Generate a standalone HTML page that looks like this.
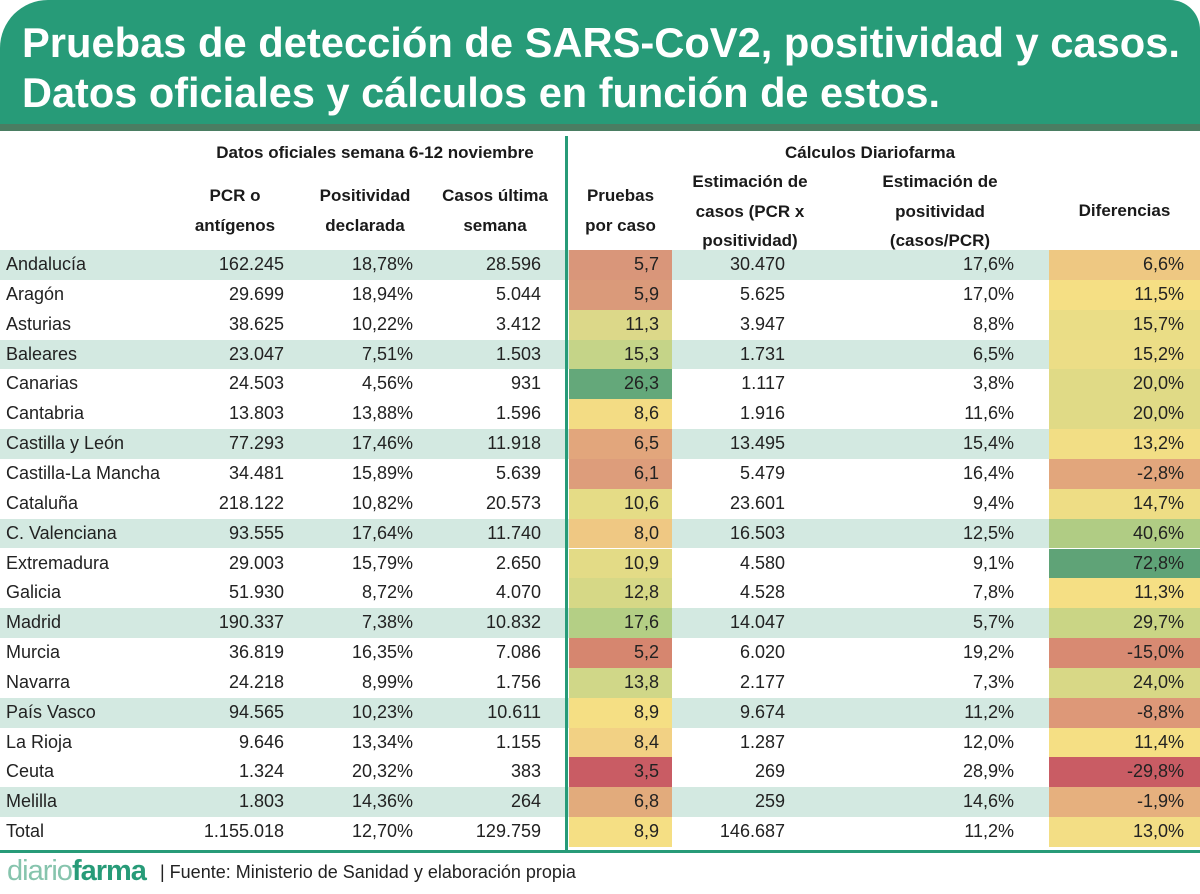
<!DOCTYPE html>
<html><head><meta charset="utf-8">
<style>
*{margin:0;padding:0;box-sizing:border-box}
body{width:1200px;height:894px;background:#fff;position:relative;overflow:hidden;font-family:"Liberation Sans",sans-serif;color:#222}
.hdr{position:absolute;left:0;top:0;width:1200px;height:125px;background:#279b78;border-top-left-radius:48px;border-top-right-radius:30px}
.stripe{position:absolute;left:0;top:124px;width:1200px;height:7px;background:#4a7d62}
.vline{position:absolute;left:565px;top:136px;width:3px;height:716px;background:#279b78}
.hline{position:absolute;left:0;top:850px;width:1200px;height:3px;background:#279b78}
.h{position:absolute;font-weight:bold;font-size:17px;text-align:center;line-height:29.5px;color:#1a1a1a}
.row{position:absolute;left:0;width:1200px;height:29.85px;font-size:18px;line-height:29.85px}
.row.b{background:#d3e9e1}
.row div{position:absolute;top:0;height:29.85px}
.n{left:6px}
.c1{left:150px;width:134px;text-align:right}
.c2{left:290px;width:123px;text-align:right}
.c3{left:420px;width:121px;text-align:right}
.c4{left:569px;width:103px;text-align:right;padding-right:13px}
.c5{left:675px;width:110px;text-align:right}
.c6{left:880px;width:134px;text-align:right}
.c7{left:1049px;width:151px;text-align:right;padding-right:16px}
.foot{position:absolute;left:7px;top:855px;font-size:29px;letter-spacing:-1px}
.src{position:absolute;left:160px;top:862px;font-size:18px;color:#222}
</style></head><body>
<div class="hdr"></div>
<svg style="position:absolute;left:0;top:0" width="1200" height="125">
<text x="22" y="57" font-family="Liberation Sans" font-weight="bold" font-size="42" fill="#fff" textLength="1158" lengthAdjust="spacingAndGlyphs">Pruebas de detección de SARS-CoV2, positividad y casos.</text>
<text x="22" y="107" font-family="Liberation Sans" font-weight="bold" font-size="42" fill="#fff" textLength="918" lengthAdjust="spacingAndGlyphs">Datos oficiales y cálculos en función de estos.</text>
</svg>
<div class="stripe"></div>

<div class="h" style="left:180px;width:390px;top:138px">Datos oficiales semana 6-12 noviembre</div>
<div class="h" style="left:760px;width:220px;top:138px">Cálculos Diariofarma</div>
<div class="h" style="left:180px;width:110px;top:181px">PCR o<br>antígenos</div>
<div class="h" style="left:300px;width:130px;top:181px">Positividad<br>declarada</div>
<div class="h" style="left:430px;width:130px;top:181px">Casos última<br>semana</div>
<div class="h" style="left:569px;width:103px;top:181px">Pruebas<br>por caso</div>
<div class="h" style="left:675px;width:150px;top:167px">Estimación de<br>casos (PCR x<br>positividad)</div>
<div class="h" style="left:865px;width:150px;top:167px">Estimación de<br>positividad<br>(casos/PCR)</div>
<div class="h" style="left:1049px;width:151px;top:196px">Diferencias</div>

<div class="row b" style="top:250.0px"><div class="n">Andalucía</div><div class="c1">162.245</div><div class="c2">18,78%</div><div class="c3">28.596</div><div class="c4" style="background:#d9967a">5,7</div><div class="c5">30.470</div><div class="c6">17,6%</div><div class="c7" style="background:#eec882">6,6%</div></div>
<div class="row" style="top:279.85px"><div class="n">Aragón</div><div class="c1">29.699</div><div class="c2">18,94%</div><div class="c3">5.044</div><div class="c4" style="background:#da9a7a">5,9</div><div class="c5">5.625</div><div class="c6">17,0%</div><div class="c7" style="background:#f5df84">11,5%</div></div>
<div class="row" style="top:309.7px"><div class="n">Asturias</div><div class="c1">38.625</div><div class="c2">10,22%</div><div class="c3">3.412</div><div class="c4" style="background:#dcd889">11,3</div><div class="c5">3.947</div><div class="c6">8,8%</div><div class="c7" style="background:#eadd86">15,7%</div></div>
<div class="row b" style="top:339.55px"><div class="n">Baleares</div><div class="c1">23.047</div><div class="c2">7,51%</div><div class="c3">1.503</div><div class="c4" style="background:#c5d488">15,3</div><div class="c5">1.731</div><div class="c6">6,5%</div><div class="c7" style="background:#ecdd86">15,2%</div></div>
<div class="row" style="top:369.4px"><div class="n">Canarias</div><div class="c1">24.503</div><div class="c2">4,56%</div><div class="c3">931</div><div class="c4" style="background:#64a87a">26,3</div><div class="c5">1.117</div><div class="c6">3,8%</div><div class="c7" style="background:#e0da86">20,0%</div></div>
<div class="row" style="top:399.25px"><div class="n">Cantabria</div><div class="c1">13.803</div><div class="c2">13,88%</div><div class="c3">1.596</div><div class="c4" style="background:#f3dc84">8,6</div><div class="c5">1.916</div><div class="c6">11,6%</div><div class="c7" style="background:#e0da86">20,0%</div></div>
<div class="row b" style="top:429.1px"><div class="n">Castilla y León</div><div class="c1">77.293</div><div class="c2">17,46%</div><div class="c3">11.918</div><div class="c4" style="background:#e2a67c">6,5</div><div class="c5">13.495</div><div class="c6">15,4%</div><div class="c7" style="background:#f2de85">13,2%</div></div>
<div class="row" style="top:458.95px"><div class="n">Castilla-La Mancha</div><div class="c1">34.481</div><div class="c2">15,89%</div><div class="c3">5.639</div><div class="c4" style="background:#dd9d7b">6,1</div><div class="c5">5.479</div><div class="c6">16,4%</div><div class="c7" style="background:#e2a67c">-2,8%</div></div>
<div class="row" style="top:488.8px"><div class="n">Cataluña</div><div class="c1">218.122</div><div class="c2">10,82%</div><div class="c3">20.573</div><div class="c4" style="background:#e5dc86">10,6</div><div class="c5">23.601</div><div class="c6">9,4%</div><div class="c7" style="background:#eedd85">14,7%</div></div>
<div class="row b" style="top:518.65px"><div class="n">C. Valenciana</div><div class="c1">93.555</div><div class="c2">17,64%</div><div class="c3">11.740</div><div class="c4" style="background:#efc883">8,0</div><div class="c5">16.503</div><div class="c6">12,5%</div><div class="c7" style="background:#b0cc84">40,6%</div></div>
<div class="row" style="top:548.5px"><div class="n">Extremadura</div><div class="c1">29.003</div><div class="c2">15,79%</div><div class="c3">2.650</div><div class="c4" style="background:#e3db86">10,9</div><div class="c5">4.580</div><div class="c6">9,1%</div><div class="c7" style="background:#5fa377">72,8%</div></div>
<div class="row" style="top:578.35px"><div class="n">Galicia</div><div class="c1">51.930</div><div class="c2">8,72%</div><div class="c3">4.070</div><div class="c4" style="background:#d6d886">12,8</div><div class="c5">4.528</div><div class="c6">7,8%</div><div class="c7" style="background:#f5df84">11,3%</div></div>
<div class="row b" style="top:608.2px"><div class="n">Madrid</div><div class="c1">190.337</div><div class="c2">7,38%</div><div class="c3">10.832</div><div class="c4" style="background:#b4cf85">17,6</div><div class="c5">14.047</div><div class="c6">5,7%</div><div class="c7" style="background:#cad585">29,7%</div></div>
<div class="row" style="top:638.05px"><div class="n">Murcia</div><div class="c1">36.819</div><div class="c2">16,35%</div><div class="c3">7.086</div><div class="c4" style="background:#d6866f">5,2</div><div class="c5">6.020</div><div class="c6">19,2%</div><div class="c7" style="background:#d88a72">-15,0%</div></div>
<div class="row" style="top:667.9px"><div class="n">Navarra</div><div class="c1">24.218</div><div class="c2">8,99%</div><div class="c3">1.756</div><div class="c4" style="background:#d0d788">13,8</div><div class="c5">2.177</div><div class="c6">7,3%</div><div class="c7" style="background:#d8d886">24,0%</div></div>
<div class="row b" style="top:697.75px"><div class="n">País Vasco</div><div class="c1">94.565</div><div class="c2">10,23%</div><div class="c3">10.611</div><div class="c4" style="background:#f5df84">8,9</div><div class="c5">9.674</div><div class="c6">11,2%</div><div class="c7" style="background:#dd9878">-8,8%</div></div>
<div class="row" style="top:727.6px"><div class="n">La Rioja</div><div class="c1">9.646</div><div class="c2">13,34%</div><div class="c3">1.155</div><div class="c4" style="background:#f2d184">8,4</div><div class="c5">1.287</div><div class="c6">12,0%</div><div class="c7" style="background:#f5df84">11,4%</div></div>
<div class="row" style="top:757.45px"><div class="n">Ceuta</div><div class="c1">1.324</div><div class="c2">20,32%</div><div class="c3">383</div><div class="c4" style="background:#c95c64">3,5</div><div class="c5">269</div><div class="c6">28,9%</div><div class="c7" style="background:#c95c64">-29,8%</div></div>
<div class="row b" style="top:787.3px"><div class="n">Melilla</div><div class="c1">1.803</div><div class="c2">14,36%</div><div class="c3">264</div><div class="c4" style="background:#e2ab7c">6,8</div><div class="c5">259</div><div class="c6">14,6%</div><div class="c7" style="background:#e6b07e">-1,9%</div></div>
<div class="row" style="top:817.15px"><div class="n">Total</div><div class="c1">1.155.018</div><div class="c2">12,70%</div><div class="c3">129.759</div><div class="c4" style="background:#f5df84">8,9</div><div class="c5">146.687</div><div class="c6">11,2%</div><div class="c7" style="background:#f3de85">13,0%</div></div>

<div class="vline"></div>
<div class="hline"></div>
<div class="foot"><span style="color:#86c4ad">diario</span><span style="color:#279b78;font-weight:bold">farma</span></div>
<div class="src">| Fuente: Ministerio de Sanidad y elaboración propia</div>
</body></html>
